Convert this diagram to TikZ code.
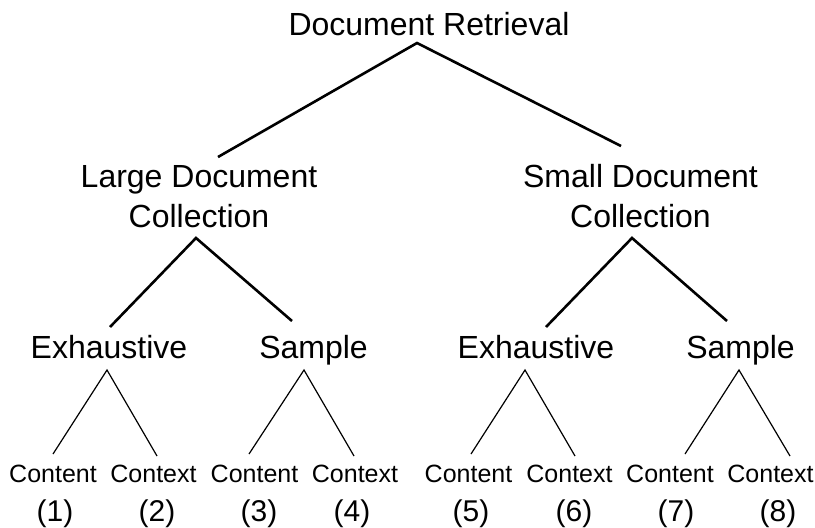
\documentclass[tikz,border=0pt]{standalone}
\usepackage{fontspec}
\setmainfont{Liberation Sans}
\begin{document}
\begin{tikzpicture}[x=1pt,y=-1pt,
  big/.style={font=\fontsize{32}{40}\selectfont, inner sep=0pt, anchor=base, align=center},
  leaf/.style={font=\fontsize{25}{30}\selectfont, inner sep=0pt, anchor=base},
  num/.style={font=\fontsize{30}{36}\selectfont, inner sep=0pt, anchor=base},
  thickline/.style={line width=2.6pt},
  thinline/.style={line width=1.2pt}]
\useasboundingbox (0,0) rectangle (815,528);
% nodes (base of a two-line node = baseline of its last line)
\node[big] (root) at (429,35) {Document Retrieval};
\node[big] (large) at (199,227) {Large Document\\Collection};
\node[big] (small) at (640.5,227) {Small Document\\Collection};
\node[big] (exhL) at (109,358) {Exhaustive};
\node[big] (samL) at (313.5,358) {Sample};
\node[big] (exhR) at (536,358) {Exhaustive};
\node[big] (samR) at (740.5,358) {Sample};
\node[leaf] (c1) at (53,482) {Content};
\node[leaf] (c2) at (153.5,482) {Context};
\node[leaf] (c3) at (254.5,482) {Content};
\node[leaf] (c4) at (355,482) {Context};
\node[leaf] (c5) at (468.5,482) {Content};
\node[leaf] (c6) at (569.5,482) {Context};
\node[leaf] (c7) at (670,482) {Content};
\node[leaf] (c8) at (770.5,482) {Context};
\node[num] (n1) at (55,521) {(1)};
\node[num] (n2) at (157,521) {(2)};
\node[num] (n3) at (259,521) {(3)};
\node[num] (n4) at (352,521) {(4)};
\node[num] (n5) at (471,521) {(5)};
\node[num] (n6) at (574,521) {(6)};
\node[num] (n7) at (676,521) {(7)};
\node[num] (n8) at (778,521) {(8)};
% connectors
\draw[thickline] ([shift={(19,-70)}]large.base) -- ([shift={(-12,8)}]root.base) -- ([shift={(-19.5,-81)}]small.base);
\draw[thickline] ([shift={(1,-31)}]exhL.base) -- ([shift={(-3,11)}]large.base) -- ([shift={(-21.5,-37)}]samL.base);
\draw[thickline] ([shift={(10,-31)}]exhR.base) -- ([shift={(-8.5,11)}]small.base) -- ([shift={(-13.5,-37)}]samR.base);
\draw[thinline] ([shift={(0,-28)}]c1.base) -- ([shift={(-2,12)}]exhL.base) -- ([shift={(3.5,-26)}]c2.base);
\draw[thinline] ([shift={(-5.5,-28)}]c3.base) -- ([shift={(-9.5,12)}]samL.base) -- ([shift={(-1,-26)}]c4.base);
\draw[thinline] ([shift={(2.5,-28)}]c5.base) -- ([shift={(-11,12)}]exhR.base) -- ([shift={(5.5,-26)}]c6.base);
\draw[thinline] ([shift={(15,-28)}]c7.base) -- ([shift={(-1.5,12)}]samR.base) -- ([shift={(19.5,-26)}]c8.base);
\end{tikzpicture}
\end{document}
